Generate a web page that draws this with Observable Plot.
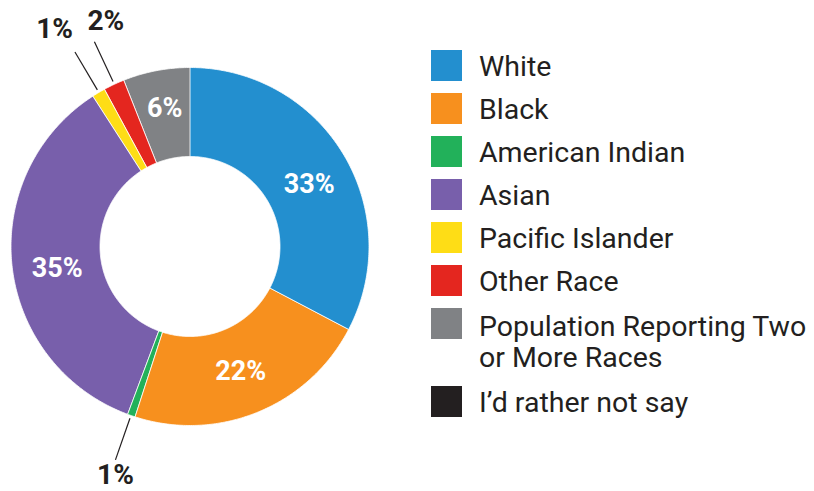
<!DOCTYPE html>
<html><head><meta charset="utf-8">
<script src="https://cdn.jsdelivr.net/npm/d3@7"></script>
<script src="https://cdn.jsdelivr.net/npm/@observablehq/plot@0.6"></script>
<style>
body{margin:0;background:#fff;}
#wrap{position:relative;width:814px;height:491px;overflow:hidden;font-family:Roboto, sans-serif;}
#chart{position:absolute;left:0;top:0;}
#legend{position:absolute;left:431px;top:50px;color:#231f20;}
.row{display:flex;align-items:flex-start;margin-bottom:12px;}
.row.multi{margin-bottom:16px;}
.sw{width:31px;height:31px;flex:none;}
.lab{margin-left:17px;font-size:28.5px;line-height:31px;width:336px;position:relative;top:1px;white-space:normal;}
.row.multi .lab{top:3px;}
</style></head><body>
<div id="wrap"><div id="chart"></div><div id="legend"></div></div>
<script>
const categories = ["White","Black","American Indian","Asian","Pacific Islander","Other Race","Population Reporting Two or More Races","I’d rather not say"];
const values = [32.7, 22.3, 0.7, 35.2, 1.2, 1.9, 6.0, 0];
const colors = ["#238fcf","#f7901e","#22b15a","#785fab","#fedd16","#e4261f","#808285","#231f20"];

// small pixel nudges for the in-ring labels (styling only)
const labelNudge = {"White": [4, 7], "Asian": [1, 8], "Population Reporting Two or More Races": [0, -6]};

const rows = categories.map((cat, i) => ({cat, value: values[i]}));
const arcs = d3.pie().sort(null).value(d => d.value).startAngle(0).endAngle(2 * Math.PI)(rows);

const R = 179, r0 = 90;
const poly = [];
arcs.filter(a => a.data.value > 0).forEach(a => {
  const n = Math.max(2, Math.ceil((a.endAngle - a.startAngle) / 0.01));
  for (let i = 0; i <= n; i++) {
    const t = a.startAngle + (a.endAngle - a.startAngle) * i / n;
    poly.push({cat: a.data.cat, x: R * Math.sin(t), y: R * Math.cos(t)});
  }
  for (let i = n; i >= 0; i--) {
    const t = a.startAngle + (a.endAngle - a.startAngle) * i / n;
    poly.push({cat: a.data.cat, x: r0 * Math.sin(t), y: r0 * Math.cos(t)});
  }
});

const labs = arcs.filter(a => a.data.value > 0).map(a => {
  const m = (a.startAngle + a.endAngle) / 2;
  return {cat: a.data.cat, value: a.data.value, m, text: Math.round(a.data.value) + "%"};
});
const inner = labs.filter(d => d.value >= 3).map(d => {
  const [nx, ny] = labelNudge[d.cat] || [0, 0];
  return {...d, x: (R + r0) / 2 * Math.sin(d.m) + nx, y: (R + r0) / 2 * Math.cos(d.m) - ny};
});
const outer = labs.filter(d => d.value < 3).map(d => ({...d,
  x1: 182 * Math.sin(d.m), y1: 182 * Math.cos(d.m),
  x2: 226 * Math.sin(d.m), y2: 226 * Math.cos(d.m),
  top: Math.cos(d.m) > 0}));
const topOuter = outer.filter(d => d.top).sort((a, b) => a.m - b.m);
topOuter.forEach((d, i) => d.anchor = i % 2 === 0 ? "end" : "start");
outer.filter(d => !d.top).forEach(d => d.anchor = "middle");

const labelStyle = {fontSize: 28, fontWeight: "bold", fill: "#231f20"};
const chart = Plot.plot({
  width: 400, height: 491, margin: 0,
  x: {domain: [-189.5, 210.5], axis: null},
  y: {domain: [-245, 246], axis: null},
  color: {domain: categories, range: colors},
  style: {fontFamily: "Roboto, sans-serif", overflow: "visible", background: "white"},
  marks: [
    Plot.line(poly, {x: "x", y: "y", z: "cat", fill: "cat", stroke: "white", strokeWidth: 0.8, curve: "linear-closed"}),
    Plot.text(inner, {x: "x", y: "y", text: "text", fill: "white", fontSize: 27, fontWeight: "bold"}),
    Plot.link(outer, {x1: "x1", y1: "y1", x2: "x2", y2: "y2", stroke: "#231f20", strokeWidth: 1.2}),
    Plot.text(outer.filter(d => d.anchor === "end"), {x: "x2", y: "y2", text: "text", textAnchor: "end", dx: -2, dy: -23, ...labelStyle}),
    Plot.text(outer.filter(d => d.anchor === "start"), {x: "x2", y: "y2", text: "text", textAnchor: "start", dx: -7, dy: -21, ...labelStyle}),
    Plot.text(outer.filter(d => d.anchor === "middle"), {x: "x2", y: "y2", text: "text", textAnchor: "middle", dy: 15, ...labelStyle})
  ]
});
document.getElementById("chart").appendChild(chart);

const legend = d3.select("#legend");
categories.forEach((c, i) => {
  const row = legend.append("div").attr("class", "row");
  row.append("div").attr("class", "sw").style("background", colors[i]);
  const lab = row.append("div").attr("class", "lab").text(c);
  if (lab.node().getBoundingClientRect().height > 40) row.classed("multi", true);
});
</script>
</body></html>
